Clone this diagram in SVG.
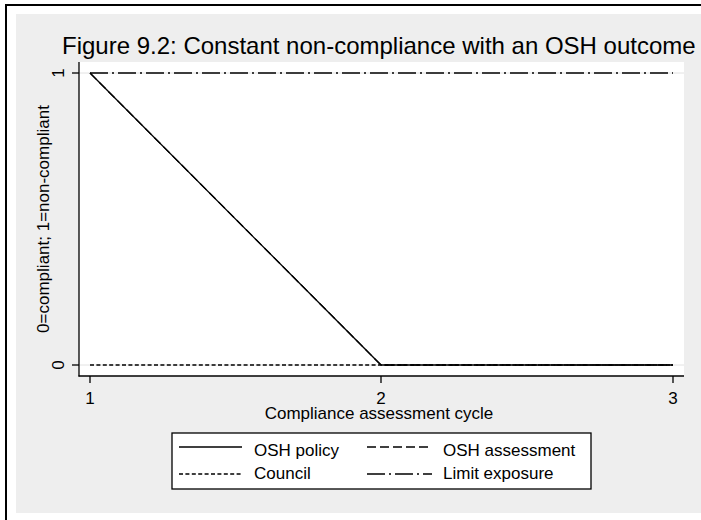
<svg xmlns="http://www.w3.org/2000/svg" width="701" height="520" viewBox="0 0 701 520">
  <style>
    text { font-family: "Liberation Sans", Arial, sans-serif; fill: #000; }
    .title { font-size: 24px; }
    .lbl { font-size: 17px; }
    .axis { stroke: #000; stroke-width: 1.3; fill: none; }
    .grid { stroke: #e2e2e2; stroke-width: 1; fill: none; }
    .s-policy { stroke: #000; stroke-width: 1.3; fill: none; }
    .s-assess { stroke: #000; stroke-width: 1.3; fill: none; stroke-dasharray: 9 4; }
    .s-council { stroke: #000; stroke-width: 1.3; fill: none; stroke-dasharray: 4 2.4; }
    .s-limit { stroke: #000; stroke-width: 1.3; fill: none; stroke-dasharray: 18 4 2 4; }
  </style>

  <!-- page background and frame -->
  <rect x="0" y="0" width="701" height="520" fill="#ffffff"/>
  <rect x="6" y="5" width="720" height="540" fill="#ffffff" stroke="#000" stroke-width="2"/>
  <rect x="16" y="14" width="700" height="499" fill="#eeeeee"/>

  <!-- title -->
  <text class="title" x="62" y="54">Figure 9.2: Constant non-compliance with an OSH outcome</text>

  <!-- plot region -->
  <rect x="79" y="62" width="605" height="314" fill="#ffffff"/>
  <g id="gridlines">
    <line class="grid" x1="79" y1="73" x2="684" y2="73"/>
    <line class="grid" x1="79" y1="365" x2="684" y2="365"/>
  </g>

  <!-- axes -->
  <g id="y-axis">
    <line class="axis" x1="79" y1="62" x2="79" y2="376.5"/>
    <line class="axis" x1="72" y1="73" x2="79" y2="73"/>
    <line class="axis" x1="72" y1="365" x2="79" y2="365"/>
    <text class="lbl" transform="translate(64 73) rotate(-90)" text-anchor="middle">1</text>
    <text class="lbl" transform="translate(64 365) rotate(-90)" text-anchor="middle">0</text>
    <text class="lbl" transform="translate(49 219) rotate(-90)" text-anchor="middle">0=compliant; 1=non-compliant</text>
  </g>
  <g id="x-axis">
    <line class="axis" x1="78.5" y1="376" x2="684" y2="376"/>
    <line class="axis" x1="90" y1="376" x2="90" y2="383"/>
    <line class="axis" x1="381" y1="376" x2="381" y2="383"/>
    <line class="axis" x1="673" y1="376" x2="673" y2="383"/>
    <text class="lbl" x="90" y="404" text-anchor="middle">1</text>
    <text class="lbl" x="381" y="404" text-anchor="middle">2</text>
    <text class="lbl" x="673" y="404" text-anchor="middle">3</text>
    <text class="lbl" x="379" y="419" text-anchor="middle">Compliance assessment cycle</text>
  </g>

  <!-- data series -->
  <g id="series">
    <path id="limit-exposure" class="s-limit" d="M90 73 H673"/>
    <path id="council" class="s-council" d="M90 365 H673"/>
    <path id="osh-assessment" class="s-assess" d="M90 73 L381 365 H673"/>
    <path id="osh-policy" class="s-policy" d="M90 73 L381 365 H673"/>
  </g>

  <!-- legend -->
  <g id="legend">
    <rect x="172" y="433" width="419" height="56" fill="#ffffff" stroke="#000" stroke-width="1.3"/>
    <line class="s-policy" x1="179" y1="447" x2="242" y2="447"/>
    <text class="lbl" x="254" y="456">OSH policy</text>
    <line class="s-assess" x1="367" y1="447" x2="432" y2="447"/>
    <text class="lbl" x="443" y="456">OSH assessment</text>
    <line class="s-council" x1="179" y1="474" x2="242" y2="474"/>
    <text class="lbl" x="254" y="479">Council</text>
    <line class="s-limit" x1="367" y1="474" x2="432" y2="474"/>
    <text class="lbl" x="443" y="479">Limit exposure</text>
  </g>
</svg>
